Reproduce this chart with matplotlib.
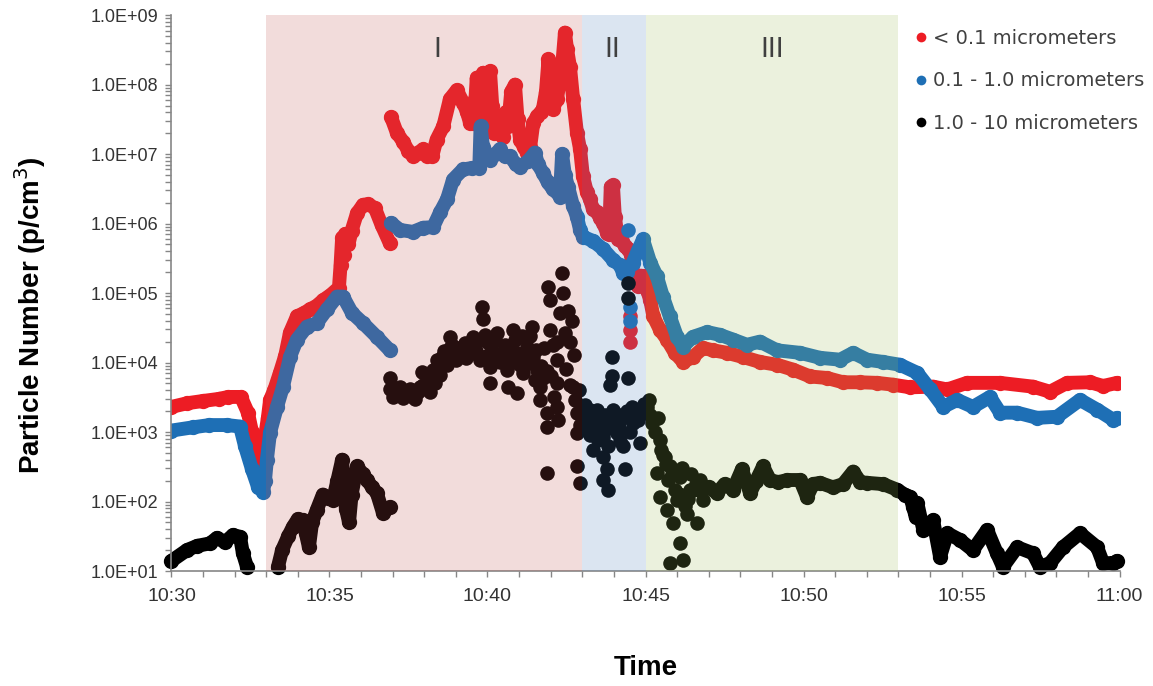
import matplotlib
matplotlib.use("Agg")
import matplotlib.pyplot as plt
from matplotlib.ticker import MultipleLocator, FuncFormatter, LogLocator, NullFormatter
from matplotlib.lines import Line2D
import numpy as np

# time = minutes after 10:30, values = particles per cm3
# nan marks a break in the record
red_t = [0.0, 0.5, 1.0, 1.5, 1.8, 2.2, 2.42, 2.55, 2.71, 2.77, 2.85, 2.96, 3.05, 3.12, 3.25,
         3.43, 3.6, 3.75, 3.97, 4.2, 4.38, 4.6, 4.8, 5.05, 5.3, 5.35, 5.4, 5.45, 5.5, 5.6,
         5.7, 5.87, 6.06, 6.23, 6.44, 6.65, 6.91,
         6.93,
         6.95, 7.13, 7.34, 7.5, 7.65, 7.8, 7.97, 8.1, 8.25, 8.39, 8.6, 8.81, 9.03, 9.23, 9.35,
         9.45, 9.54, 9.62, 9.66, 9.72, 9.8, 9.86, 9.92, 9.98, 10.04, 10.08, 10.15, 10.22, 10.3,
         10.4, 10.49, 10.58, 10.65, 10.75, 10.87, 10.95, 11.03, 11.15, 11.25, 11.35, 11.45,
         11.57, 11.68, 11.75, 11.85, 11.93, 11.98, 12.07, 12.2, 12.3, 12.36, 12.45, 12.52,
         12.61, 12.71, 12.83, 12.93, 13.02, 13.15, 13.24, 13.34, 13.47, 13.56, 13.66, 13.78,
         13.85, 13.9, 13.97, 14.03, 14.13, 14.25, 14.35, 14.45, 14.55, 14.62, 14.75, 14.85,
         14.95, 15.05, 15.15, 15.25, 15.46, 15.68, 15.93, 16.19, 16.5, 16.82, 17.14, 17.58,
         18.09, 18.62, 19.16, 19.67, 20.21, 20.74, 21.25, 21.79, 22.33, 22.84, 23.37, 24.1,
         24.55, 25.17, 26.22, 27.26, 27.8, 28.34, 29.07, 29.48, 29.92]
red_v = [2.3e3, 2.6e3, 2.8e3, 3.0e3, 3.2e3, 3.2e3, 1.9e3, 1.0e3, 5.0e2, 3.2e2, 5.6e2, 8.5e2,
         1.6e3, 2.9e3, 4.0e3, 7.1e3, 1.26e4, 2.7e4, 4.6e4, 5.2e4, 5.8e4, 6.6e4, 7.9e4, 9.5e4,
         1.2e5, 2.5e5, 6.3e5, 3.55e5, 7.1e5, 5.0e5, 7.9e5, 1.4e6, 1.86e6, 1.9e6, 1.66e6,
         9.5e5, 5.2e5,
         np.nan,
         3.4e7, 2.04e7, 1.48e7, 1.1e7, 9.3e6, 1.05e7, 1.17e7, 9.5e6, 9.3e6, 1.62e7, 2.5e7,
         6.2e7, 8.3e7, 5.5e7, 4.0e7, 2.8e7, 2.8e7, 6.3e7, 1.26e8, 3.2e7, 7.9e7, 1.48e8,
         4.0e7, 1.0e8, 2.8e7, 1.55e8, 5.0e7, 2.0e7, 2.0e7, 2.8e7, 1.78e7, 4.0e7, 2.5e7,
         7.9e7, 1.0e8, 3.2e7, 1.62e7, 1.26e7, 1.05e7, 1.26e7, 2.8e7, 3.5e7, 4.0e7, 4.4e7,
         7.9e7, 2.3e8, 6.3e7, 4.4e7, 6.2e7, 1.26e8, 1.8e8, 5.6e8, 3.2e8, 1.8e8, 6.2e7,
         2.04e7, 1.17e7, 4.8e6, 2.8e6, 2.24e6, 1.6e6, 1.45e6, 1.2e6, 1.02e6, 7.4e5, 7.1e5,
         3.4e6, 3.55e6, 1.26e6, 5.9e5, 5.6e5, 4.7e5, 4.3e5, 3.55e5, 1.6e5, 1.26e5, 1.78e5,
         1.74e5, 1.1e5, 7.9e4, 4.6e4, 2.95e4, 2.14e4, 1.38e4, 1.02e4, 1.2e4, 1.62e4, 1.5e4,
         1.38e4, 1.2e4, 1.02e4, 9.3e3, 7.9e3, 6.3e3, 6.0e3, 5.2e3, 5.2e3, 5.1e3, 4.8e3,
         4.4e3, 4.5e3, 4.1e3, 5.1e3, 5.1e3, 4.5e3, 3.8e3, 5.1e3, 5.2e3, 4.6e3, 5.1e3]
red_dots_t = [14.51, 14.51, 14.51]
red_dots_v = [4.6e4, 2.95e4, 1.95e4]

blue_t = [0.0, 0.68, 1.2, 1.76, 2.17, 2.33, 2.55, 2.74, 2.9, 2.96, 3.02, 3.12, 3.34, 3.53,
          3.75, 3.97, 4.29, 4.6, 4.92, 5.24, 5.43, 5.71, 6.06, 6.5, 6.91,
          6.93,
          6.95, 7.23, 7.64, 7.96, 8.28, 8.5, 8.72, 8.91, 9.22, 9.5, 9.74, 9.78, 9.86, 10.08,
          10.25, 10.39, 10.55, 10.71, 10.9, 11.03, 11.28, 11.5, 11.6, 11.75, 11.9, 12.07,
          12.2, 12.29, 12.36, 12.45, 12.55, 12.71, 12.83, 12.93, 13.02, 13.34, 13.66, 13.97,
          14.19, 14.29, 14.4, 14.6, 14.75, 14.92, 15.15, 15.36, 15.55, 15.77, 16.0, 16.19,
          16.5, 16.95, 17.36, 17.77, 18.21, 18.62, 19.16, 19.89, 20.52, 21.16, 21.57, 22.01,
          22.52, 23.05, 23.6, 24.01, 24.42, 24.86, 25.36, 25.9, 26.22, 26.76, 27.39, 28.02,
          28.75, 29.29, 29.8, 29.92]
blue_v = [1.05e3, 1.17e3, 1.26e3, 1.26e3, 1.2e3, 6.2e2, 2.9e2, 1.62e2, 1.38e2, 2.0e2, 4.0e2,
          9.8e2, 2.3e3, 4.5e3, 1.2e4, 2.14e4, 3.3e4, 3.7e4, 5.8e4, 8.9e4, 8.9e4, 5.2e4,
          3.7e4, 2.34e4, 1.5e4,
          np.nan,
          1.02e6, 8.1e5, 7.6e5, 8.7e5, 8.9e5, 1.45e6, 2.24e6, 4.3e6, 6.0e6, 6.3e6, 6.3e6,
          2.5e7, 1.26e7, 8.3e6, 1.0e7, 1.17e7, 9.3e6, 9.3e6, 7.1e6, 6.6e6, 7.9e6, 1.05e7,
          7.1e6, 5.4e6, 4.0e6, 3.1e6, 2.8e6, 2.45e6, 1.0e7, 5.0e6, 3.4e6, 1.78e6, 1.26e6,
          8.1e5, 6.5e5, 5.6e5, 4.3e5, 3.0e5, 2.5e5, 1.95e5, 2.0e5, 2.75e5, 4.0e5, 5.9e5,
          2.75e5, 1.74e5, 8.9e4, 4.6e4, 2.34e4, 1.7e4, 2.34e4, 2.75e4, 2.5e4, 2.14e4, 1.8e4,
          2.0e4, 1.5e4, 1.38e4, 1.17e4, 1.1e4, 1.38e4, 1.1e4, 1.02e4, 9.3e3, 7.1e3, 4.1e3,
          2.3e3, 2.9e3, 2.3e3, 3.2e3, 1.9e3, 1.9e3, 1.6e3, 1.66e3, 2.9e3, 2.1e3, 1.5e3, 1.6e3]
blue_dots_t = [14.45, 14.51, 14.51]
blue_dots_v = [8.1e5, 6.3e4, 3.9e4]

black_t = [0.0, 0.49, 0.81, 1.22, 1.44, 1.69, 1.95, 2.17, 2.26, 2.39,
           2.9,
           3.37, 3.5, 3.7, 3.84, 4.0, 4.16, 4.25, 4.35, 4.45, 4.6, 4.79, 4.95, 5.11, 5.25,
           5.4, 5.45, 5.52, 5.62, 5.7, 5.87, 6.05, 6.19, 6.35, 6.5, 6.69, 6.91,
           10.0,
           16.72, 17.0, 17.26, 17.5, 17.77, 18.05, 18.31, 18.5, 18.72, 18.94, 19.2, 19.48,
           19.89, 20.11, 20.3, 20.52, 20.93, 21.25, 21.57, 21.8, 22.01, 22.52, 22.96, 23.2,
           23.37, 23.47, 23.55, 23.6, 23.79, 24.1, 24.32, 24.55, 24.95, 25.36, 25.81, 26.12,
           26.31, 26.76, 27.26, 27.48, 27.8, 28.21, 28.75, 29.29, 29.48, 29.8, 29.92]
black_v = [14, 20, 23, 25, 30, 26, 33, 31, 18, 11.5,
           np.nan,
           11.5, 20, 32, 43, 56, 54, 35, 22, 50, 76, 126, 112, 105, 200, 400, 160, 79, 50,
           126, 320, 250, 204, 160, 132, 69, 83,
           np.nan,
           148, 160, 132, 178, 148, 290, 132, 200, 320, 204, 190, 204, 204, 117, 178, 186,
           160, 178, 270, 190, 186, 178, 148, 126, 117, 83, 60, 95, 39, 54, 16, 35, 28, 20,
           39, 18, 11.5, 22, 18, 11.5, 13, 22, 35, 22, 13, 13, 14]
# scattered cloud 10:37 - 10:47
black_cloud_t = [6.91, 6.91, 7.07, 7.23, 7.33, 7.48, 7.64, 7.8, 7.93, 7.96, 8.12, 8.18, 8.28,
                 8.4, 8.5, 8.62, 8.72, 8.81, 8.88, 8.97, 9.07, 9.22, 9.32, 9.45, 9.54, 9.64,
                 9.76, 9.83, 9.86, 9.92, 9.98, 10.02, 10.08, 10.08, 10.14, 10.24, 10.3, 10.39,
                 10.49, 10.55, 10.62, 10.65, 10.71, 10.81, 10.87, 10.93, 10.93, 11.03, 11.12,
                 11.19, 11.25, 11.34, 11.41, 11.44, 11.5, 11.57, 11.66, 11.66, 11.75, 11.88,
                 11.88, 11.88, 11.88, 11.91, 11.98, 11.98, 12.07, 12.2, 12.2, 12.2, 12.2,
                 12.23, 12.29, 12.36, 12.39, 12.45, 12.55, 12.61, 12.67, 12.71, 12.77, 12.83,
                 12.83, 12.83, 12.93, 12.93, 13.09, 13.15, 13.15, 13.24, 13.24, 13.34, 13.4,
                 13.47, 13.5, 13.56, 13.66, 13.66, 13.66, 13.72, 13.78, 13.81, 13.81, 13.88,
                 13.94, 13.94, 13.97, 14.03, 14.1, 14.19, 14.19, 14.29, 14.35, 14.45, 14.45,
                 14.45, 14.57, 14.6, 14.7, 14.83, 14.89, 15.05, 15.15, 15.21, 15.3, 15.36,
                 15.46, 15.46, 15.55, 15.62, 15.68, 15.72, 15.77, 15.77, 15.87, 15.93, 16.0,
                 16.09, 16.09, 16.19, 16.25, 16.31, 16.41, 16.5, 16.63, 16.72, 16.82,
                 7.0, 7.15, 7.4, 7.55, 7.7, 7.85, 8.05, 8.2, 8.35, 8.45, 8.55, 8.68, 8.8, 8.92,
                 9.0, 9.12, 9.28, 9.4, 9.5, 9.6, 9.7, 10.2, 10.45, 10.7, 10.98, 11.1, 11.3,
                 11.55, 11.7, 11.8, 12.0, 12.12, 12.5, 12.6, 12.75, 12.88, 13.05, 13.2, 13.3,
                 13.45, 13.6, 13.75, 13.9, 14.05, 14.15, 14.25, 14.4, 14.5, 14.75, 14.95, 15.1,
                 15.4, 15.5, 15.65, 15.85, 16.05, 16.15, 16.35, 16.45, 16.6, 16.9]
black_cloud_v = [6.0e3, 4.1e3, 3.4e3, 4.4e3, 3.1e3, 3.8e3, 3.2e3, 3.8e3, 7.4e3, 4.8e3, 6.0e3,
                 3.8e3, 7.9e3, 1.1e4, 6.6e3, 1.45e4, 9.3e3, 2.34e4, 1.8e4, 1.3e4, 1.62e4,
                 1.5e4, 1.17e4, 1.8e4, 2.34e4, 1.45e4, 1.1e4, 6.3e4, 4.2e4, 2.5e4, 1.95e4,
                 1.3e4, 8.7e3, 5.1e3, 1.5e4, 2.1e4, 2.7e4, 1.02e4, 1.38e4, 1.8e4, 7.9e3, 4.5e3,
                 1.1e4, 2.95e4, 2.14e4, 1.38e4, 3.6e3, 9.3e3, 7.1e3, 1.3e4, 1.7e4, 2.45e4,
                 3.3e4, 1.2e4, 5.6e3, 7.9e3, 4.5e3, 2.9e3, 6.0e3, 7.6e3, 1.9e3, 1.17e3, 2.57e2,
                 1.23e5, 7.9e4, 2.95e4, 1.8e4, 1.95e4, 1.1e4, 5.1e3, 2.3e3, 1.5e3, 5.2e4,
                 1.95e5, 1.0e5, 2.7e4, 5.6e4, 4.8e3, 3.9e4, 4.5e3, 2.9e3, 1.9e3, 9.8e2, 3.2e2,
                 1.86e2, 1.26e3, 2.45e3, 1.78e3, 1.17e3, 2.1e3, 9.1e2, 5.5e2, 1.5e3, 2.1e3,
                 7.8e2, 1.26e3, 8.5e2, 4.4e2, 2.04e2, 1.78e3, 2.9e2, 1.48e2, 6.3e2, 4.8e3,
                 1.2e4, 6.3e3, 2.1e3, 1.26e3, 9.8e2, 1.5e3, 7.4e2, 6.2e2, 2.9e2, 6.0e3, 1.4e5,
                 8.5e4, 2.3e3, 1.35e3, 1.78e3, 6.9e2, 2.1e3, 2.3e3, 1.78e3, 1.35e3, 1.0e3,
                 2.57e2, 7.8e2, 1.17e2, 4.6e2, 4.4e2, 76, 204, 320, 13, 49, 148, 105, 224, 25,
                 14.5, 87, 66, 148, 148, 49, 204, 105,
                 3.2e3, 4.0e3, 3.5e3, 4.2e3, 3.0e3, 4.5e3, 4.5e3, 6.5e3, 5.0e3, 8.5e3, 1.2e4,
                 1.1e4, 1.6e4, 1.7e4, 1.1e4, 1.4e4, 1.9e4, 1.4e4, 1.6e4, 1.9e4, 1.3e4, 1.2e4,
                 1.1e4, 1.6e4, 1.0e4, 2.4e4, 1.0e4, 1.5e4, 9.0e3, 1.6e4, 6.5e3, 3.2e3, 8.0e3,
                 2.0e4, 1.3e4, 4.0e3, 1.8e3, 1.4e3, 1.7e3, 9.5e2, 1.6e3, 1.1e3, 1.5e3, 1.9e3,
                 1.2e3, 1.6e3, 2.0e3, 1.0e3, 1.5e3, 2.5e3, 2.9e3, 1.6e3, 5.5e2, 3.5e2, 2.5e2,
                 1.3e2, 3.0e2, 1.1e2, 2.5e2, 1.8e2, 1.6e2]

series_labels = ["< 0.1 micrometers", "0.1 - 1.0 micrometers", "1.0 - 10 micrometers"]
series_colors = ["#ED1C24", "#1E6FB5", "#000000"]

phase_names = ["I", "II", "III"]
phase_start = [3.0, 13.0, 15.0]
phase_end = [13.0, 15.0, 23.0]
phase_label_t = [8.4, 13.95, 19.0]
phase_colors = ["#C0504D", "#4F81BD", "#9BBB59"]

plt.rcParams["font.family"] = ["Liberation Sans", "DejaVu Sans"]

fig, ax = plt.subplots(figsize=(11.53, 6.86), dpi=100)
fig.subplots_adjust(left=0.1487, right=0.971, top=0.978, bottom=0.1676)

band = dict(lw=10, ms=11, marker="o", mec="none",
            solid_joinstyle="round", solid_capstyle="round")
dot = dict(ls="none", marker="o", ms=10.5, mec="none")
ax.plot(red_t, red_v, color=series_colors[0], **band)
ax.plot(red_dots_t, red_dots_v, color=series_colors[0], **dot)
ax.plot(blue_t, blue_v, color=series_colors[1], **band)
ax.plot(blue_dots_t, blue_dots_v, color=series_colors[1], **dot)
ax.plot(black_t, black_v, color=series_colors[2], clip_on=False, **band)
ax.plot(black_cloud_t, black_cloud_v, color=series_colors[2], clip_on=False, **dot)

# shaded phases sit on top of the data, like the original
for name, x0, x1, xt, c in zip(phase_names, phase_start, phase_end, phase_label_t, phase_colors):
    ax.axvspan(x0, x1, color=c, alpha=0.2, lw=0, zorder=3)
    ax.text(xt, 3.1e8, name, ha="center", va="center", fontsize=19,
            color="#404040", family="DejaVu Sans", zorder=4)

ax.set_yscale("log")
ax.set_ylim(1e1, 1e9)
ax.set_xlim(0, 30)

ax.xaxis.set_major_locator(MultipleLocator(5))
ax.xaxis.set_minor_locator(MultipleLocator(1))
ax.xaxis.set_major_formatter(FuncFormatter(
    lambda m, _: f"{10 + int(round(30 + m)) // 60}:{int(round(30 + m)) % 60:02d}"))
ax.yaxis.set_major_locator(LogLocator(base=10, numticks=20))
ax.yaxis.set_minor_locator(LogLocator(base=10, subs=np.arange(2, 10), numticks=20))
ax.yaxis.set_minor_formatter(NullFormatter())
ax.yaxis.set_major_formatter(FuncFormatter(lambda v, _: f"{v:.1E}"))

for s in ["top", "right"]:
    ax.spines[s].set_visible(False)
for s in ["left", "bottom"]:
    ax.spines[s].set_color("#868686")
    ax.spines[s].set_linewidth(1.2)
ax.tick_params(which="both", direction="out", color="#868686", width=1, length=4.5)
ax.tick_params(axis="y", labelsize=13, labelcolor="#333333", pad=5)
ax.tick_params(axis="x", labelsize=14, labelcolor="#333333", pad=8)

ax.set_ylabel("Particle Number (p/cm$^3$)", fontsize=20, fontweight="bold")
ax.yaxis.set_label_coords(-0.13, 0.46)
ax.set_xlabel("Time", fontsize=20, fontweight="bold")
ax.xaxis.set_label_coords(0.5, -0.151)

handles = [Line2D([], [], ls="none", marker="o", ms=7, mec="none", color=c)
           for c in series_colors]
leg = ax.legend(handles, series_labels, loc="upper left", bbox_to_anchor=(0.784, 0.975),
                frameon=False, handlelength=0.6, handletextpad=0.35, labelspacing=1.2,
                borderaxespad=0, borderpad=0, prop={"family": "DejaVu Sans", "size": 14})
for t in leg.get_texts():
    t.set_color("#404040")
leg.set_zorder(5)

fig.savefig("out.png", dpi=100)
